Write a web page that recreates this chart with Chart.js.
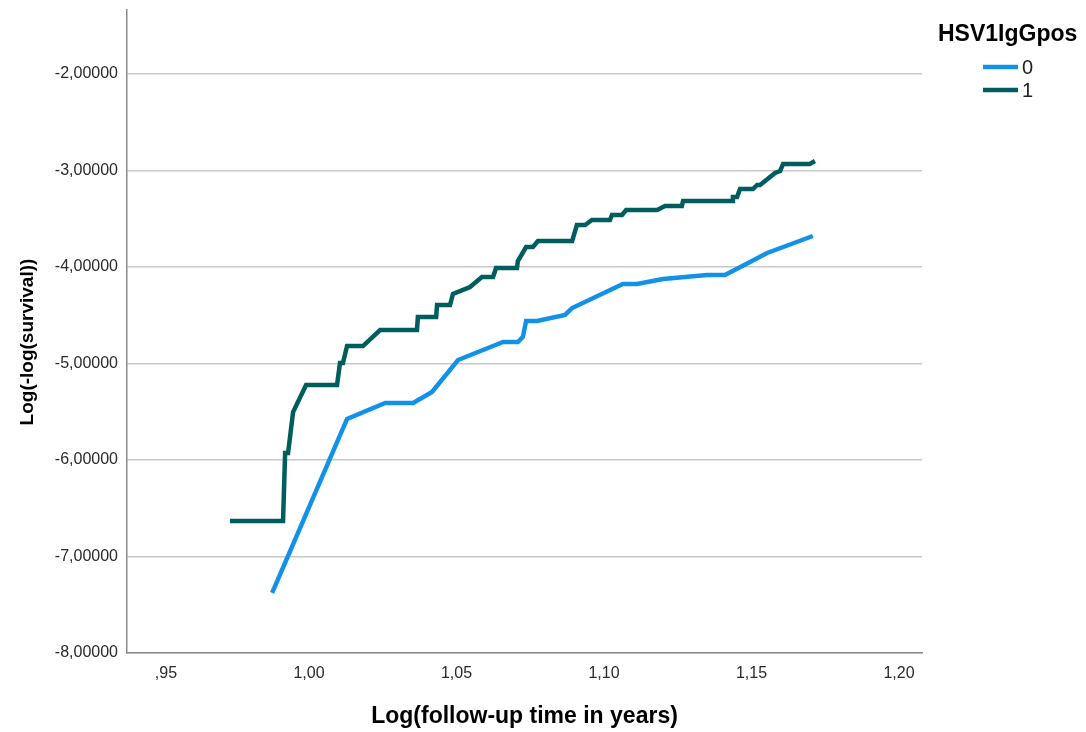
<!DOCTYPE html>
<html>
<head>
<meta charset="utf-8">
<script src="https://cdn.jsdelivr.net/npm/chart.js@4.4.1/dist/chart.umd.min.js"></script>
<style>
  html, body { margin: 0; padding: 0; background: #fff; }
  #wrap { width: 1086px; height: 732px; position: relative; }
</style>
</head>
<body>
<div id="wrap"><canvas id="chart"></canvas></div>
<script>
// Log(-log(survival)) vs Log(follow-up time), by HSV1IgGpos group
const legendTitle = 'HSV1IgGpos';
const seriesNames = ['0', '1'];
const seriesColors = ['#1192e8', '#005d5d'];

// group 0
const xs0 = [0.9875, 1.0129, 1.0258, 1.0353, 1.0417, 1.0505, 1.0658, 1.0708, 1.0725, 1.0736, 1.0773,
  1.0868, 1.0892, 1.1064, 1.1112, 1.1200, 1.1349, 1.1410, 1.1495, 1.1553, 1.1708];
const ys0 = [-7.378, -5.575, -5.409, -5.409, -5.295, -4.964, -4.777, -4.777, -4.725, -4.560, -4.560,
  -4.497, -4.425, -4.176, -4.176, -4.124, -4.083, -4.083, -3.948, -3.855, -3.679];

// group 1
const xs1 = [0.9732, 0.9912, 0.9919, 0.9929, 0.9946, 0.9990, 1.0095, 1.0105, 1.0115, 1.0129, 1.0183,
  1.0241, 1.0366, 1.0369, 1.0431, 1.0434, 1.0478, 1.0488, 1.0546, 1.0586, 1.0624, 1.0634, 1.0705,
  1.0708, 1.0736, 1.0759, 1.0776, 1.0892, 1.0908, 1.0936, 1.0959, 1.1020, 1.1027, 1.1061, 1.1075,
  1.1180, 1.1207, 1.1264, 1.1268, 1.1434, 1.1437, 1.1451, 1.1461, 1.1505, 1.1519, 1.1529, 1.1580,
  1.1597, 1.1607, 1.1698, 1.1715];
const ys1 = [-6.632, -6.632, -5.927, -5.927, -5.503, -5.223, -5.223, -4.995, -4.995, -4.819, -4.819,
  -4.653, -4.653, -4.518, -4.518, -4.394, -4.394, -4.280, -4.207, -4.104, -4.104, -4.010, -4.010,
  -3.938, -3.793, -3.793, -3.731, -3.731, -3.565, -3.565, -3.513, -3.513, -3.461, -3.461, -3.409,
  -3.409, -3.368, -3.368, -3.316, -3.316, -3.275, -3.275, -3.192, -3.192, -3.150, -3.150, -3.026,
  -3.005, -2.933, -2.933, -2.902];

const xTicks = [0.95, 1.00, 1.05, 1.10, 1.15, 1.20];
const xTickLabels = [',95', '1,00', '1,05', '1,10', '1,15', '1,20'];
const yTicks = [-8, -7, -6, -5, -4, -3, -2];

const FONT = '"Liberation Sans", Arial, sans-serif';

const toPoints = (xs, ys) => xs.map((x, i) => ({ x, y: ys[i] }));

// legend drawn by hand, SPSS style (title on top, short line + label)
const legendPlugin = {
  id: 'spssLegend',
  afterDraw(chart) {
    const ctx = chart.ctx;
    ctx.save();
    ctx.textBaseline = 'middle';
    ctx.textAlign = 'left';
    ctx.fillStyle = '#000';
    ctx.font = 'bold 23px ' + FONT;
    ctx.fillText(legendTitle, 938, 35);
    seriesNames.forEach((name, i) => {
      const y = 67 + i * 23;
      ctx.strokeStyle = seriesColors[i];
      ctx.lineWidth = 4.5;
      ctx.beginPath();
      ctx.moveTo(983, y);
      ctx.lineTo(1018, y);
      ctx.stroke();
      ctx.font = '20px ' + FONT;
      ctx.fillStyle = '#222';
      ctx.fillText(name, 1022, y + 1);
    });
    ctx.restore();
  }
};

const ctx = document.getElementById('chart').getContext('2d');
new Chart(ctx, {
  type: 'scatter',
  data: {
    datasets: [
      { label: seriesNames[0], data: toPoints(xs0, ys0), showLine: true, borderColor: seriesColors[0],
        borderWidth: 4.5, pointRadius: 0, pointHoverRadius: 0, tension: 0, fill: false },
      { label: seriesNames[1], data: toPoints(xs1, ys1), showLine: true, borderColor: seriesColors[1],
        borderWidth: 4.5, pointRadius: 0, pointHoverRadius: 0, tension: 0, fill: false }
    ]
  },
  options: {
    responsive: true,
    maintainAspectRatio: false,
    animation: false,
    devicePixelRatio: 1,
    layout: { padding: { top: 10, right: 164, bottom: 0, left: 0 } },
    plugins: { legend: { display: false }, tooltip: { enabled: false } },
    scales: {
      x: {
        type: 'linear',
        min: 0.9383,
        max: 1.2078,
        afterBuildTicks: s => { s.ticks = xTicks.map(v => ({ value: v })); },
        afterFit: s => { s.height = 79; s.paddingLeft = 0; s.paddingRight = 0; },
        grid: { display: false, drawTicks: false },
        border: { display: true, color: '#8a8a8a', width: 1.5 },
        ticks: {
          autoSkip: false, maxRotation: 0, padding: 11, color: '#2a2a2a',
          font: { family: FONT, size: 16 },
          // SPSS right-aligns labels in a fixed-width slot
          callback: (v, i) => xTickLabels[i].padStart(4, '\u2007')
        },
        title: {
          display: true, text: 'Log(follow-up time in years)', color: '#000',
          font: { family: FONT, size: 23, weight: 'bold' },
          padding: { top: 0, bottom: 2 }
        }
      },
      y: {
        type: 'linear',
        min: -8,
        max: -1.337,
        afterBuildTicks: s => { s.ticks = yTicks.map(v => ({ value: v })); },
        afterFit: s => { s.width = 127; s.paddingTop = 0; s.paddingBottom = 0; },
        grid: { color: '#c8c8c8', lineWidth: 1.5, drawTicks: false },
        border: { display: true, color: '#8a8a8a', width: 1.5 },
        ticks: {
          padding: 9, color: '#2a2a2a',
          font: { family: FONT, size: 16 },
          callback: v => v.toFixed(5).replace('.', ',')
        },
        title: {
          display: true, text: 'Log(-log(survival))    ', color: '#000',
          font: { family: FONT, size: 19, weight: 'bold' },
          padding: { top: 16, bottom: 0 }
        }
      }
    }
  },
  plugins: [legendPlugin]
});
</script>
</body>
</html>
